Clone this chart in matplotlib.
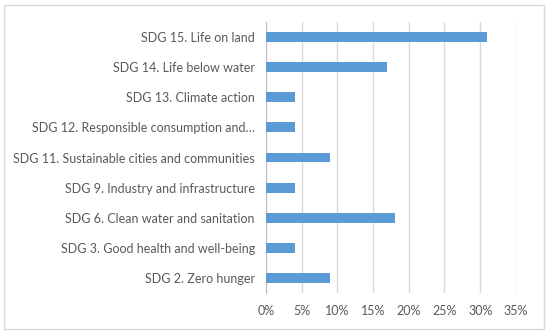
import numpy as np
import matplotlib.pyplot as plt
from matplotlib.patches import Rectangle
from matplotlib.ticker import FuncFormatter

labels = [
    "SDG 2. Zero hunger",
    "SDG 3. Good health and well-being",
    "SDG 6. Clean water and sanitation",
    "SDG 9. Industry and infrastructure",
    "SDG 11. Sustainable cities and communities",
    "SDG 12. Responsible consumption and\u2026",
    "SDG 13. Climate action",
    "SDG 14. Life below water",
    "SDG 15. Life on land",
]
shares = [0.09, 0.04, 0.18, 0.04, 0.09, 0.04, 0.04, 0.17, 0.31]
ticks = [0, 0.05, 0.10, 0.15, 0.20, 0.25, 0.30, 0.35]

plt.rcParams['font.family'] = ['Lato', 'DejaVu Sans']

fig = plt.figure(figsize=(5.5, 3.34), dpi=100)
ax = fig.add_axes([0.4836, 0.1228, 0.938 - 0.4836, 0.934 - 0.1228])

y = np.arange(len(labels))
ax.barh(y, shares, height=0.33, color="#5b9bd5", zorder=3)

ax.set_xlim(0, 0.35)
ax.set_ylim(-0.5, len(labels) - 0.5)
ax.set_xticks(ticks)
ax.xaxis.set_major_formatter(FuncFormatter(lambda v, p: "%d%%" % round(v * 100)))
ax.set_yticks(y)
ax.set_yticklabels(labels)
ax.grid(axis="x", color="#d9d9d9", linewidth=1, zorder=0)
ax.tick_params(axis="both", length=0, labelsize=9, colors="#595959")
ax.tick_params(axis="x", pad=9)
ax.tick_params(axis="y", pad=8)
for s in ["top", "right", "bottom"]:
    ax.spines[s].set_visible(False)
ax.spines["left"].set_color("#bfbfbf")

fig.patches.append(Rectangle((4 / 550, 5 / 334), 540 / 550, 324 / 334,
                             transform=fig.transFigure, fill=False,
                             edgecolor="#d9d9d9", linewidth=1))

fig.savefig("out.png", dpi=100)
